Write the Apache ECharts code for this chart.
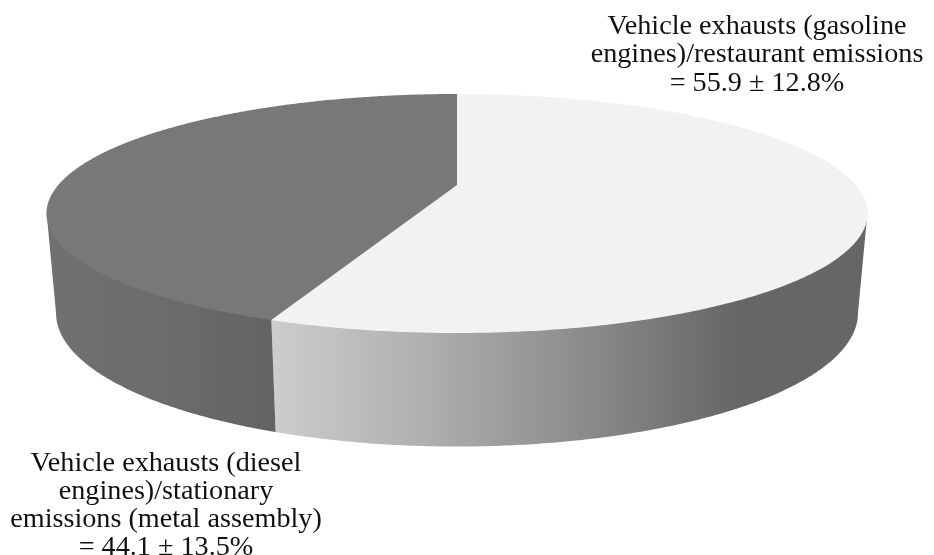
<!DOCTYPE html>
<html>
<head>
<meta charset="utf-8">
<style>html,body{margin:0;padding:0;background:#fff;overflow:hidden}#c{width:934px;height:555px}</style>
<script src="https://cdn.jsdelivr.net/npm/echarts@6/dist/echarts.min.js"></script>
</head>
<body>
<div id="c"></div>
<script>
const sliceNames = ['Vehicle exhausts (gasoline engines)/restaurant emissions', 'Vehicle exhausts (diesel engines)/stationary emissions (metal assembly)'];
const sliceValues = [55.9, 44.1];
const sliceErrors = [12.8, 13.5];
const upperLabel = ['Vehicle exhausts (gasoline', 'engines)/restaurant emissions', '= 55.9 ± 12.8%'];
const lowerLabel = ['Vehicle exhausts (diesel', 'engines)/stationary', 'emissions (metal assembly)', '= 44.1 ± 13.5%'];

const topColors = ['#f2f2f2', '#787878'];
const wallColors = [
  [[0, '#cdcdcd'], [0.25, '#b0b0b0'], [0.5, '#8f8f8f'], [0.78, '#666666'], [1, '#666666']],
  [[0, '#717171'], [0.55, '#6b6b6b'], [1, '#636363']]
];

// Perspective projection of the pie disc: k is the foreshortening strength.
const k = 0.2385;
const topPlane = { x: 457, y: 185, a: 398.7, b: 112.7 };
const basePlane = { x: 457, y: 281.2, a: 389.4, b: 125.9 };
const underTop = { x: 457, y: 183, a: 398.7, b: 112.7 };
const project = (p, t) => {
  const u = Math.sin(t), v = -Math.cos(t), w = 1 - k * v;
  return [p.x + p.a * u / w, p.y + p.b * v / w];
};
const arc = (p, t0, t1) => {
  const n = Math.max(2, Math.ceil(Math.abs(t1 - t0) / 0.008));
  const pts = [];
  for (let i = 0; i <= n; i++) pts.push(project(p, t0 + (t1 - t0) * i / n));
  return pts;
};
const total = sliceValues.reduce((a, b) => a + b, 0);
const tRight = Math.acos(-k);
const tLeft = 2 * Math.PI - tRight;

function renderSlice(params, api) {
  const i = params.dataIndex;
  let before = 0;
  for (let j = 0; j < i; j++) before += sliceValues[j];
  const t0 = before / total * 2 * Math.PI;
  const t1 = (before + api.value(0)) / total * 2 * Math.PI;
  const children = [];
  const w0 = Math.max(t0, tRight), w1 = Math.min(t1, tLeft);
  if (w1 > w0) {
    children.push({
      type: 'polygon', silent: true,
      shape: { points: arc(underTop, w0, w1).concat(arc(basePlane, w1, w0)) },
      style: {
        fill: {
          type: 'linear', x: 0, y: 0, x2: 1, y2: 0,
          colorStops: wallColors[i].map(s => ({ offset: s[0], color: s[1] }))
        }
      }
    });
  }
  children.push({
    type: 'polygon', silent: true,
    shape: { points: [[topPlane.x, topPlane.y]].concat(arc(topPlane, t0, t1)) },
    style: { fill: topColors[i] }
  });
  return { type: 'group', children };
}

const labelStyle = { fontFamily: '"Liberation Serif", serif', fontSize: 28.2, lineHeight: 28.3, fontWeight: 'normal', color: '#111' };
const chart = echarts.init(document.getElementById('c'), null, { renderer: 'canvas' });
chart.setOption({
  animation: false,
  backgroundColor: '#fff',
  title: [
    { text: upperLabel.join('\n'), left: 757, top: 12.5, padding: 0, textAlign: 'center', textStyle: labelStyle },
    { text: lowerLabel.join('\n'), left: 166, top: 449, padding: 0, textAlign: 'center', textStyle: labelStyle }
  ],
  series: [{
    type: 'custom',
    coordinateSystem: 'none',
    renderItem: renderSlice,
    data: sliceValues.map((v, i) => ({ name: sliceNames[i], value: [v, sliceErrors[i]] }))
  }]
});
</script>
</body>
</html>
